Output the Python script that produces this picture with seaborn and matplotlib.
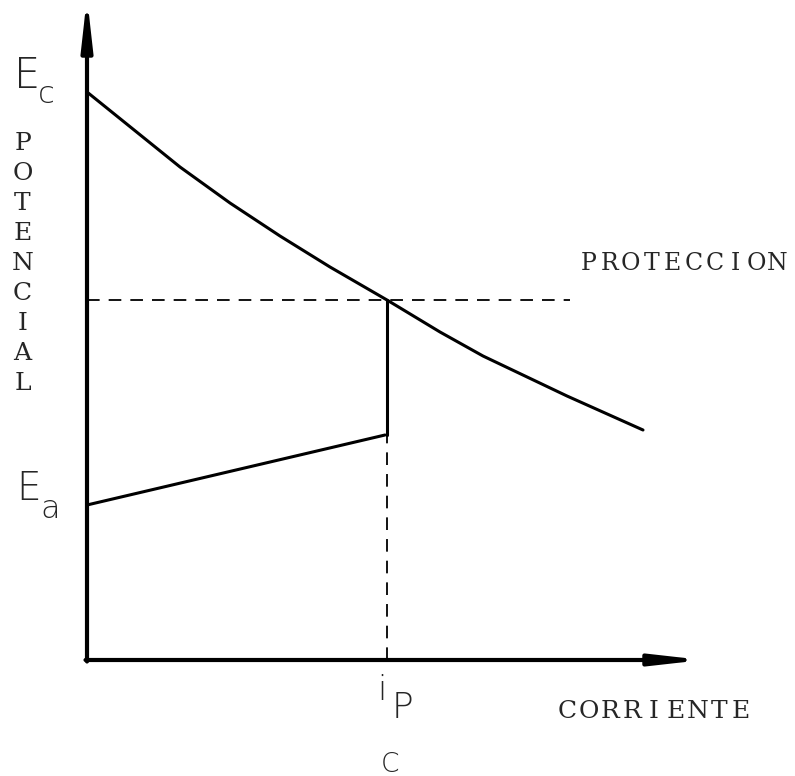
import numpy as np
import pandas as pd
import matplotlib
matplotlib.use("Agg")
import matplotlib.pyplot as plt
import seaborn as sns

# Data (arbitrary units)
cathodic_i = [0.0, 0.93, 1.43, 1.93, 2.43, 3.00, 3.53, 3.96, 4.80, 5.56]
cathodic_E = [5.68, 4.93, 4.57, 4.24, 3.93, 3.60, 3.28, 3.04, 2.64, 2.30]
anodic_i = [0.0, 2.98]
anodic_E = [1.55, 2.25]
i_protection = 3.0
E_protection = 3.6
protection_line_end = 4.83
axis_x_end = 6.03
axis_y_end = 6.50

ylabel_letters = list("POTENCIAL")
prot_label = "PROTECCION"
xlabel = "CORRIENTE"

sns.set_theme(style="white")
plt.rcParams['font.family'] = ['DejaVu Sans']

fig = plt.figure(figsize=(7.95, 7.76), dpi=100)
ax = fig.add_axes([0, 0, 1, 1])
ax.set_xlim(-0.87, 7.08)
ax.set_ylim(-1.16, 6.60)
ax.set_axis_off()

df_c = pd.DataFrame({"i": cathodic_i, "E": cathodic_E})
df_a = pd.DataFrame({"i": anodic_i, "E": anodic_E})
sns.lineplot(data=df_c, x="i", y="E", ax=ax, color="black", lw=2.2, sort=False)
sns.lineplot(data=df_a, x="i", y="E", ax=ax, color="black", lw=2.2, sort=False)

# vertical solid link between anodic end and protection point
ax.plot([i_protection, i_protection], [anodic_E[-1], E_protection], color="black", lw=2.2)
# dashed lines
ax.plot([0, protection_line_end], [E_protection, E_protection], color="black", lw=1.3,
        dashes=(7, 5))
ax.plot([i_protection, i_protection], [0, anodic_E[-1]], color="black", lw=1.3,
        dashes=(7, 5))

# axes with arrows (small overshoot compensates the arrow-head shrink)
arrow = dict(arrowstyle="-|>,head_length=1.6,head_width=0.18", color="black", lw=3,
             shrinkA=0, shrinkB=0, mutation_scale=18)
ax.annotate("", xy=(0, axis_y_end + 0.13), xytext=(0, -0.015), arrowprops=arrow,
            annotation_clip=False)
ax.annotate("", xy=(axis_x_end + 0.13, 0), xytext=(-0.015, 0), arrowprops=arrow,
            annotation_clip=False)

# E_c and E_a
ax.text(-0.73, 5.72, "E", fontsize=30, fontweight="light", ha="left", va="baseline")
ax.text(-0.49, 5.57, "c", fontsize=22, fontweight="light", ha="left", va="baseline")
ax.text(-0.71, 1.60, "E", fontsize=28, fontweight="light", ha="left", va="baseline")
ax.text(-0.47, 1.42, "a", fontsize=23, fontweight="light", ha="left", va="baseline")

# vertical POTENCIAL
for k, ch in enumerate(ylabel_letters):
    ax.text(-0.645, 5.16 - k * 0.30, ch, fontsize=18, family=["DejaVu Serif"],
            ha="center", va="center")

# PROTECCION
for k, ch in enumerate(prot_label):
    ax.text(5.015 + k * 0.21, 3.96, ch, fontsize=17, family=["DejaVu Serif"],
            ha="center", va="center")

# CORRIENTE
for k, ch in enumerate(xlabel):
    ax.text(4.80 + k * 0.2175, -0.52, ch, fontsize=18, family=["DejaVu Serif"],
            ha="center", va="center")

# i_P and C
ax.text(2.945, -0.40, "i", fontsize=24, fontweight="light", ha="center", va="baseline")
ax.text(3.15, -0.58, "P", fontsize=26, fontweight="light", ha="center", va="baseline")
ax.text(3.03, -1.115, "C", fontsize=19, fontweight="light", ha="center", va="baseline")

fig.savefig("out.png", dpi=100, facecolor="white")
